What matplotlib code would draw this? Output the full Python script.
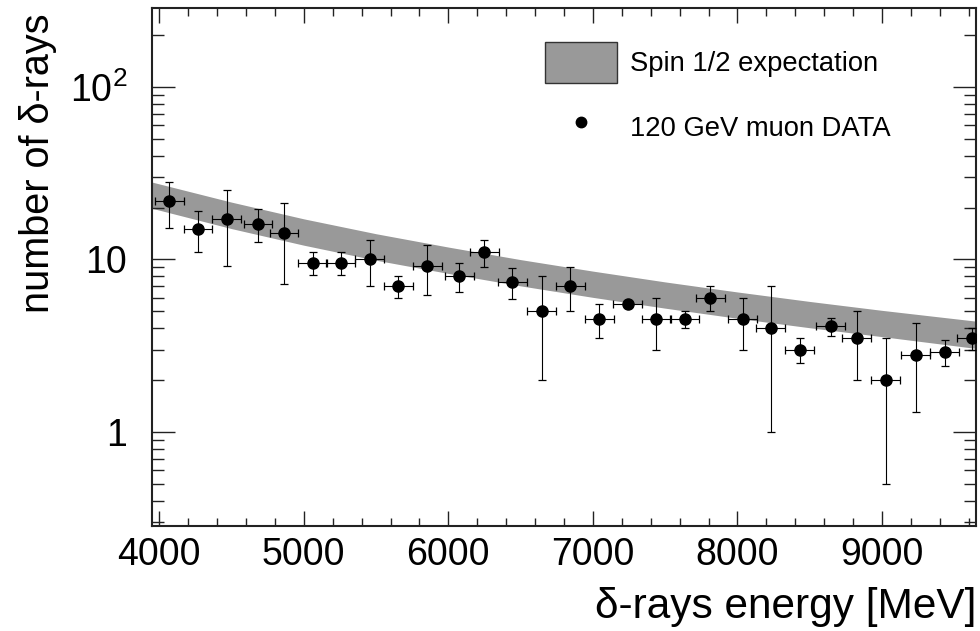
import matplotlib
matplotlib.use("Agg")
import matplotlib.pyplot as plt
from matplotlib.ticker import FixedLocator, FuncFormatter, MultipleLocator, LogLocator, NullFormatter
from matplotlib.lines import Line2D
from matplotlib.patches import Patch

plt.rcParams['font.family'] = ['Liberation Sans', 'DejaVu Sans']
plt.rcParams['mathtext.fontset'] = 'custom'
plt.rcParams['mathtext.rm'] = 'Liberation Sans'
plt.rcParams['mathtext.it'] = 'Liberation Sans:italic'
plt.rcParams['mathtext.bf'] = 'Liberation Sans:bold'

# delta-ray energy bin centres [MeV]
energy = [4069, 4268, 4466, 4683, 4863, 5061, 5257, 5455, 5654, 5853,
          6074, 6249, 6443, 6646, 6844, 7045, 7241, 7439, 7635, 7811,
          8035, 8230, 8431, 8646, 8826, 9024, 9232, 9433, 9619]
energy_half_width = 100

# measured number of delta rays and its uncertainty
counts = [21.7, 15.1, 17.2, 16.1, 14.2, 9.6, 9.6, 10.0, 7.0, 9.2,
          8.0, 11.0, 7.4, 5.0, 7.0, 4.5, 5.5, 4.5, 4.5, 6.0,
          4.5, 4.0, 3.0, 4.1, 3.5, 2.0, 2.8, 2.9, 3.5]
counts_err = [6.5, 4.0, 8.0, 3.5, 7.0, 1.5, 1.5, 3.0, 1.0, 3.0,
              1.5, 2.0, 1.5, 3.0, 2.0, 1.0, 0.2, 1.5, 0.5, 1.0,
              1.5, 3.0, 0.5, 0.5, 1.5, 1.5, 1.5, 0.5, 0.5]

# spin 1/2 expectation band
band_energy = [3950, 4500, 5000, 5500, 6000, 6500, 7000, 7500, 8000, 8500, 9000, 9650]
band_upper = [28.1, 21.5, 17.2, 14.1, 11.8, 9.98, 8.56, 7.41, 6.48, 5.71, 5.07, 4.39]
band_lower = [19.8, 15.1, 12.1, 9.9, 8.3, 7.03, 6.03, 5.22, 4.56, 4.02, 3.57, 3.05]

band_color = '#999999'

fig = plt.figure(figsize=(9.8, 6.31), dpi=100)
ax = fig.add_axes([152 / 980, 1 - 526 / 631, 824 / 980, 518 / 631])

ax.fill_between(band_energy, band_lower, band_upper, color=band_color, lw=0, zorder=1)
ax.errorbar(energy, counts, xerr=energy_half_width, yerr=counts_err, fmt='o',
            color='black', ms=8, elinewidth=0.8, capsize=2.6, capthick=0.9, zorder=3)

ax.set_yscale('log')
ax.set_xlim(3950, 9650)
ax.set_ylim(0.285, 287)

ax.xaxis.set_major_locator(MultipleLocator(1000))
ax.xaxis.set_minor_locator(MultipleLocator(200))
ax.yaxis.set_major_locator(FixedLocator([1, 10, 100]))
ax.yaxis.set_major_formatter(FuncFormatter(
    lambda v, p: {1: '1', 10: '10', 100: r'$\mathregular{10^{2}}$'}.get(int(round(v)), '')))
ax.yaxis.set_minor_locator(LogLocator(base=10, subs=[2, 3, 4, 5, 6, 7, 8, 9]))
ax.yaxis.set_minor_formatter(NullFormatter())

ax.tick_params(axis='both', which='both', direction='in', top=True, right=True,
               labelsize=27, width=1.0, color='#222222')
ax.tick_params(axis='x', which='major', length=11, pad=8)
ax.tick_params(axis='x', which='minor', length=5.5)
ax.tick_params(axis='y', which='major', length=16.5, pad=18)
ax.tick_params(axis='y', which='minor', length=8.5)

for s in ax.spines.values():
    s.set_linewidth(1.5)
    s.set_color('#222222')

ax.set_xlabel('δ-rays energy [MeV]', fontsize=30.5, loc='right')
ax.xaxis.set_label_coords(1.0, -0.118)
ax.set_ylabel('number of δ-rays', fontsize=28.5, loc='top')
ax.yaxis.set_label_coords(-0.115, 0.99)

handles = [Patch(facecolor=band_color, edgecolor='#333333', linewidth=1.0),
           Line2D([], [], marker='o', linestyle='none', color='black', markersize=7.5)]
ax.legend(handles, ['Spin 1/2 expectation', '120 GeV muon DATA'],
          loc='upper left', bbox_to_anchor=(545 / 980, 1 - 42 / 631),
          bbox_transform=fig.transFigure, frameon=False, fontsize=19.7,
          handlelength=2.63, handleheight=1.93, handletextpad=0.47,
          labelspacing=0.88, borderpad=0, borderaxespad=0)

fig.savefig('out.png', dpi=100)
